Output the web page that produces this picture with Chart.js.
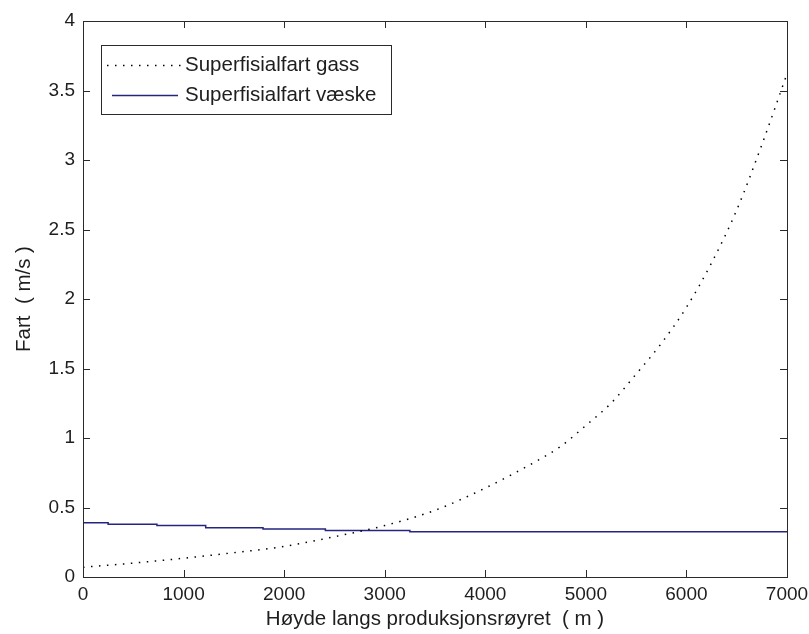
<!DOCTYPE html>
<html>
<head>
  <title>Superfisialfart</title>
  <script src="https://cdn.jsdelivr.net/npm/chart.js"></script>
  <style>
    html, body { margin: 0; padding: 0; background: #fff; }
    #wrap { width: 809px; height: 634px; }
  </style>
</head>
<body>
  <div id="wrap"><canvas id="chart"></canvas></div>

  <script>
    // values
    const gasHeight = [0, 500, 1000, 1500, 2000, 2500, 3000, 3500, 4000, 4500, 4750, 5000, 5250, 5500, 5750, 6000, 6250, 6500, 6750, 7000];
    const gasSpeed = [0.07, 0.10, 0.135, 0.175, 0.22, 0.29, 0.37, 0.48, 0.64, 0.83, 0.94, 1.09, 1.25, 1.46, 1.68, 1.94, 2.26, 2.64, 3.11, 3.62];

    const liquidHeight = [0, 250, 735, 1220, 1790, 2410, 3250, 4590, 7000];
    const liquidSpeed = [0.40, 0.39, 0.38, 0.37, 0.355, 0.345, 0.335, 0.325, 0.325];

    const seriesLabels = ['Superfisialfart gass', 'Superfisialfart væske'];
    const xTitle = 'Høyde langs produksjonsrøyret  ( m )';
    const yTitle = 'Fart  ( m/s )';

    const textColor = '#1e1e1e';
    const axisColor = '#2a2a2a';
    const fontFamily = 'Arial, "Liberation Sans", sans-serif';

    function toPoints(xs, ys) {
      return xs.map((x, i) => ({ x: x, y: ys[i] }));
    }

    // MATLAB style box with inward ticks on all four sides
    const boxPlugin = {
      id: 'box',
      afterDraw(chart) {
        const ctx = chart.ctx;
        const a = chart.chartArea;
        const xs = chart.scales.x;
        const ys = chart.scales.y;
        const len = 7;
        ctx.save();
        ctx.strokeStyle = axisColor;
        ctx.lineWidth = 1;
        ctx.beginPath();
        xs.ticks.forEach(t => {
          const px = Math.round(xs.getPixelForValue(t.value)) + 0.5;
          ctx.moveTo(px, a.bottom); ctx.lineTo(px, a.bottom - len);
          ctx.moveTo(px, a.top); ctx.lineTo(px, a.top + len);
        });
        ys.ticks.forEach(t => {
          const py = Math.round(ys.getPixelForValue(t.value)) + 0.5;
          ctx.moveTo(a.left, py); ctx.lineTo(a.left + len, py);
          ctx.moveTo(a.right, py); ctx.lineTo(a.right - len, py);
        });
        ctx.stroke();
        ctx.strokeRect(Math.round(a.left) + 0.5, Math.round(a.top) + 0.5,
          Math.round(a.right - a.left), Math.round(a.bottom - a.top));
        ctx.restore();
      }
    };

    // legend box in the upper left corner
    const legendPlugin = {
      id: 'boxLegend',
      afterDraw(chart) {
        const ctx = chart.ctx;
        const left = 101, top = 45, width = 290, height = 69;
        ctx.save();
        ctx.fillStyle = '#fff';
        ctx.fillRect(left, top, width, height);
        ctx.strokeStyle = axisColor;
        ctx.lineWidth = 1;
        ctx.strokeRect(left + 0.5, top + 0.5, width, height);
        const rows = [65, 95];
        chart.data.datasets.forEach((ds, i) => {
          const y = rows[i] + 0.5;
          ctx.beginPath();
          ctx.strokeStyle = ds.borderColor;
          ctx.lineWidth = ds.borderWidth;
          ctx.setLineDash(ds.borderDash || []);
          ctx.moveTo(i === 0 ? 107 : 112, y);
          ctx.lineTo(i === 0 ? 181 : 178, y);
          ctx.stroke();
          ctx.setLineDash([]);
          ctx.fillStyle = textColor;
          ctx.font = '20.5px ' + fontFamily;
          ctx.textBaseline = 'middle';
          ctx.textAlign = 'left';
          ctx.fillText(ds.label, 185, rows[i]);
        });
        ctx.restore();
      }
    };

    new Chart(document.getElementById('chart').getContext('2d'), {
      type: 'line',
      data: {
        datasets: [{
          label: seriesLabels[0],
          data: toPoints(gasHeight, gasSpeed),
          borderColor: '#000',
          borderWidth: 1.5,
          borderDash: [1.5, 6.5],
          pointRadius: 0,
          fill: false,
          cubicInterpolationMode: 'monotone'
        }, {
          label: seriesLabels[1],
          data: toPoints(liquidHeight, liquidSpeed),
          borderColor: '#252580',
          borderWidth: 1.5,
          pointRadius: 0,
          fill: false,
          stepped: 'after'
        }]
      },
      options: {
        responsive: true,
        maintainAspectRatio: false,
        animation: false,
        layout: { padding: { left: 0, top: 21, right: 22, bottom: 0 } },
        plugins: {
          legend: { display: false },
          tooltip: { enabled: false }
        },
        scales: {
          x: {
            type: 'linear',
            min: 0,
            max: 7000,
            grid: { display: false, drawTicks: false },
            border: { display: false },
            ticks: {
              stepSize: 1000,
              padding: 6,
              color: textColor,
              font: { family: fontFamily, size: 19 },
              maxRotation: 0,
              callback: v => String(v)
            },
            title: {
              display: true,
              text: xTitle,
              color: textColor,
              font: { family: fontFamily, size: 20.5 },
              padding: { top: 0, bottom: 2 }
            },
            afterFit(scale) {
              scale.height = 57;
              scale.paddingLeft = 0;
              scale.paddingRight = 0;
            }
          },
          y: {
            min: 0,
            max: 4,
            grid: { display: false, drawTicks: false },
            border: { display: false },
            ticks: {
              stepSize: 0.5,
              padding: 8,
              color: textColor,
              font: { family: fontFamily, size: 19 },
              callback: v => String(v)
            },
            title: {
              display: true,
              text: yTitle,
              color: textColor,
              font: { family: fontFamily, size: 20.5 },
              padding: { top: 12, bottom: 0 }
            },
            afterFit(scale) {
              scale.width = 83;
              scale.paddingTop = 0;
              scale.paddingBottom = 0;
            }
          }
        }
      },
      plugins: [boxPlugin, legendPlugin]
    });
  </script>
</body>
</html>
